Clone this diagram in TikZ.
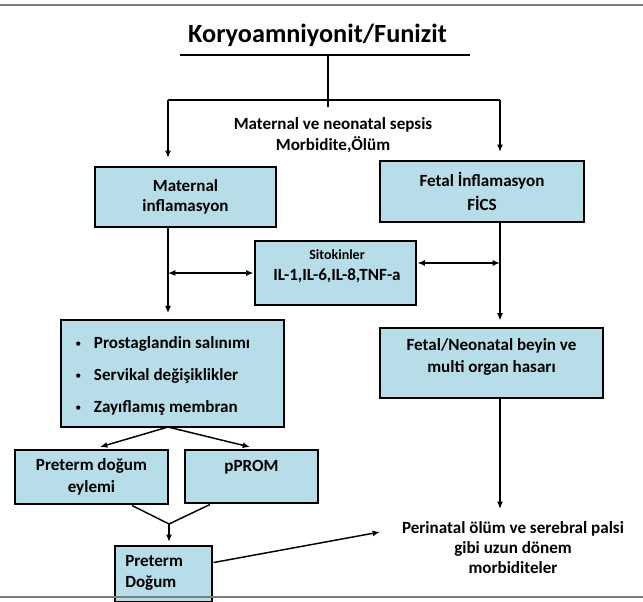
\documentclass[tikz,border=0pt]{standalone}
\usepackage{fontspec}
\setmainfont{Carlito}
\usetikzlibrary{arrows.meta}
\definecolor{boxfill}{RGB}{183,221,232}
\definecolor{rulegray}{RGB}{125,125,125}
\newcommand{\smbul}{\makebox[14pt][l]{\raisebox{0.8pt}{\mdseries\fontsize{9}{9}\selectfont\textbullet}}}
\begin{document}
\begin{tikzpicture}[x=0.75pt,y=-0.75pt,
  every node/.style={font=\bfseries\fontsize{12.8}{15.5}\selectfont, inner sep=0pt},
  box/.style={draw, fill=boxfill, line width=2.2pt},
  thinbox/.style={draw, fill=boxfill, line width=1.1pt},
  conn/.style={line width=1.1pt},
  arr/.style={line width=1.1pt, -{Latex[length=5.5pt,width=4.5pt]}},
  darr/.style={line width=1.1pt, {Latex[length=5.5pt,width=4.5pt]}-{Latex[length=5.5pt,width=4.5pt]}},
  grayline/.style={draw=rulegray, line width=1.3pt}]
\useasboundingbox (0,0) rectangle (643,601);

% title
\node[font=\bfseries\fontsize{19.7}{22}\selectfont] (title) at (317.5,35) {Koryoamniyonit/Funizit};
\coordinate (ulL) at (180,55);
\coordinate (ulR) at (470,55);
\coordinate (trunkT) at (328,55);
\coordinate (trunkB) at (328,107);
\coordinate (barL) at (168,100);
\coordinate (barR) at (500,100);
\coordinate (tipL) at (168,158);
\coordinate (tipR) at (500,152);
\draw[conn] (ulL) -- (ulR);
\draw[conn] (trunkT) -- (trunkB);
\draw[conn] (barL) -- (barR);
\draw[arr] (barL) -- (tipL);
\draw[arr] (barR) -- (tipR);

\node[align=center] (sepsis) at (333,135) {Maternal ve neonatal sepsis\\Morbidite,Ölüm};

% boxes
\node[thinbox, minimum width=135.75pt, minimum height=45pt, align=center] (mat) at (185.5,197) {Maternal\\inflamasyon};
\node[box, minimum width=153pt, minimum height=45.75pt, align=center] (fet) at (482,191.5) {Fetal İnflamasyon\\[2pt]FİCS};
\node[box, minimum width=120.75pt, minimum height=48pt] (sit) at (335.5,273) {};
\node[font=\bfseries\fontsize{10.5}{12}\selectfont] (sitT) at (337,255) {Sitokinler};
\node (sitL) at (337,276) {IL-1,IL-6,IL-8,TNF-a};

\node[box, minimum width=167.25pt, minimum height=80.25pt] (proc) at (172.5,373.5) {};
\node[anchor=west, align=left, font=\bfseries\fontsize{12.8}{24}\selectfont] (procT) at (75,376)
  {\smbul Prostaglandin salınımı\\
   \smbul Servikal değişiklikler\\
   \smbul Zayıflamış membran};

\node[box, minimum width=167.25pt, minimum height=52.5pt] (fn) at (491.5,363) {};
\node[align=center, font=\bfseries\fontsize{12.8}{16.5}\selectfont] (fnT) at (491.5,357) {Fetal/Neonatal beyin ve\\multi organ hasarı};

\node[box, minimum width=114.75pt, minimum height=40.5pt, align=center, font=\bfseries\fontsize{12.8}{16.5}\selectfont] (pde) at (91.5,477) {Preterm doğum\\eylemi};
\node[box, minimum width=99.75pt, minimum height=39.75pt] (ppr) at (251.5,476.5) {};
\node (pprT) at (251.5,467) {pPROM};

\node[box, minimum width=72.75pt, minimum height=42pt] (pd) at (163.5,574) {};
\node[anchor=west, align=left, font=\bfseries\fontsize{12.8}{15.5}\selectfont] (pdT) at (125,573) {Preterm\\Doğum};

\node[align=center, font=\bfseries\fontsize{12.8}{15}\selectfont] (per) at (513,548) {Perinatal ölüm ve serebral palsi\\gibi uzun dönem\\morbiditeler};

% connectors
\draw[arr, shorten >=4pt] (barL |- mat.south) -- (barL |- proc.north);
\draw[darr] (sit.west -| barL) -- (sit.west);
\coordinate (sitR) at ([yshift=7.5pt]sit.east);
\draw[darr] (sitR) -- (sitR -| barR);
\draw[arr, shorten >=4.5pt] (barR |- fet.south) -- (barR |- fn.north);
\coordinate (perTip) at (500,509);
\draw[arr] (barR |- fn.south) -- (perTip);

\coordinate (procB) at (168,427);
\coordinate (tipA) at (100,447);
\coordinate (tipB) at (250,447);
\draw[arr] (procB) -- (tipA);
\draw[arr] (procB) -- (tipB);

\coordinate (join) at (169,524);
\draw[conn] ([xshift=30.4pt]pde.south) -- (join) -- ([xshift=-31.1pt]ppr.south);
\draw[arr, shorten >=2pt] (join) -- (join |- pd.north);

\coordinate (perIn) at (380,532);
\draw[arr] ([yshift=8.6pt]pd.east) -- (perIn);

% gray rules
\draw[grayline] (0,5) -- (643,5);
\draw[grayline] (0,597) -- (643,597);
\end{tikzpicture}
\end{document}
